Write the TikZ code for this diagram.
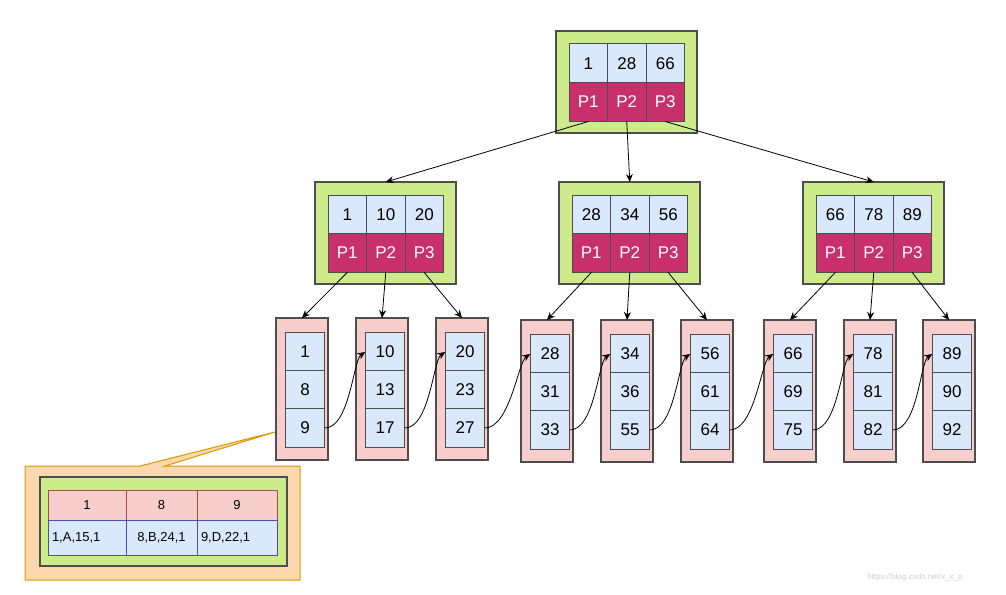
\documentclass[tikz,border=0pt]{standalone}
\usepackage{fontspec}
\setmainfont{Liberation Sans}
\usetikzlibrary{arrows.meta}
\definecolor{cblue}{HTML}{DAE8FC}
\definecolor{cmag}{HTML}{C7306B}
\definecolor{cgreen}{HTML}{CDEB8B}
\definecolor{cpink}{HTML}{F8CECC}
\definecolor{corange}{HTML}{FAD7AC}
\definecolor{corline}{HTML}{D79B00}
\definecolor{cgray}{HTML}{4D4D4D}
\begin{document}
\begin{tikzpicture}[x=1pt,y=-1pt,
  grn/.style={draw=cgray,fill=cgreen,line width=1.2pt},
  pnk/.style={draw=cgray,fill=cpink,line width=1.2pt},
  key/.style={draw=cgray,fill=cblue,line width=1pt,minimum width=38.5pt,minimum height=38.5pt,inner sep=0,font=\fontsize{17}{17}\selectfont},
  ptr/.style={draw=cgray,fill=cmag,text=white,line width=1pt,minimum width=38.5pt,minimum height=38.5pt,inner sep=0,font=\fontsize{17}{17}\selectfont},
  arr/.style={-{Stealth[length=8pt,width=7pt]},line width=0.8pt},
  lnk/.style={-{Stealth[length=8pt,width=7pt]},line width=0.8pt}]
\useasboundingbox (0,0) rectangle (1006,594);
% internal nodes
\newcommand{\inode}[4]{% name, left x, top y, keys
  \draw[grn] (#2-13,#3-13) rectangle (#2+128,#3+89);
  \coordinate (#1t) at (#2+57.75,#3-13);
  \foreach \k [count=\i] in {#4}{
    \node[key] (#1k\i) at ({#2+19.25+38.5*(\i-1)},{#3+19.25}) {\k};
    \node[ptr] (#1p\i) at ({#2+19.25+38.5*(\i-1)},{#3+57.75}) {P\i};}}
\inode{r}{569}{44}{1,28,66}
\inode{a}{328}{195}{1,10,20}
\inode{b}{572}{195}{28,34,56}
\inode{c}{816}{195}{66,78,89}
% leaves
\newcommand{\leaf}[4]{% name, outer x, top y, keys
  \draw[pnk] (#2,#3) rectangle (#2+52,#3+142);
  \coordinate (#1t) at (#2+26,#3);
  \foreach \k [count=\i] in {#4}{
    \node[key] (#1c\i) at ({#2+29},{#3+34+38*(\i-1)}) {\k};}}
\leaf{l1}{276}{318}{1,8,9}
\leaf{l2}{356}{318}{10,13,17}
\leaf{l3}{436}{318}{20,23,27}
\leaf{l4}{521}{320}{28,31,33}
\leaf{l5}{601}{320}{34,36,55}
\leaf{l6}{681}{320}{56,61,64}
\leaf{l7}{764}{320}{66,69,75}
\leaf{l8}{844}{320}{78,81,82}
\leaf{l9}{923}{320}{89,90,92}
% arrows
\draw[arr] (rp1.south) -- (at);
\draw[arr] (rp2.south) -- (bt);
\draw[arr] (rp3.south) -- (ct);
\draw[arr] (ap1.south) -- (l1t); \draw[arr] (ap2.south) -- (l2t); \draw[arr] (ap3.south) -- (l3t);
\draw[arr] (bp1.south) -- (l4t); \draw[arr] (bp2.south) -- (l5t); \draw[arr] (bp3.south) -- (l6t);
\draw[arr] (cp1.south) -- (l7t); \draw[arr] (cp2.south) -- (l8t); \draw[arr] (cp3.south) -- (l9t);
\foreach \a/\b in {l1/l2,l2/l3,l3/l4,l4/l5,l5/l6,l6/l7,l7/l8,l8/l9}{
  \draw[lnk] (\a c3.east) .. controls +(25,0) and +(-12,8) .. (\b c1.west);}
% callout
\coordinate (cpt) at (275,432);
\draw[draw=corline,fill=corange,line width=1pt] (25,466) -- (140,466) -- (cpt) -- (165,466) -- (300,466) -- (300,580) -- (25,580) -- cycle;
\draw[grn] (40,477) rectangle (287,566);
\tikzset{tc/.style={draw=#1,line width=1pt,inner sep=0,font=\fontsize{13}{13}\selectfont}}
\foreach \t/\x/\w in {1/48/78,8/126/71,9/197/80}{
  \node[tc={red!50!black!70},fill=cpink,minimum width=\w pt,minimum height=30pt] (h\t) at (\x+\w/2,505) {\t};}
\node[tc={blue!40!gray},fill=cblue,minimum width=78pt,minimum height=35pt,text width=70pt,align=left] (d1) at (87,537.5) {1,A,15,1};
\node[tc={blue!40!gray},fill=cblue,minimum width=71pt,minimum height=35pt] (d8) at (161.5,537.5) {8,B,24,1};
\node[tc={blue!40!gray},fill=cblue,minimum width=80pt,minimum height=35pt,text width=72pt,align=left] (d9) at (237,537.5) {9,D,22,1};
\node[text=gray!40,font=\fontsize{8}{8}\selectfont] (wm) at (915,577) {https://blog.csdn.net/x\_x\_p};
\end{tikzpicture}
\end{document}
